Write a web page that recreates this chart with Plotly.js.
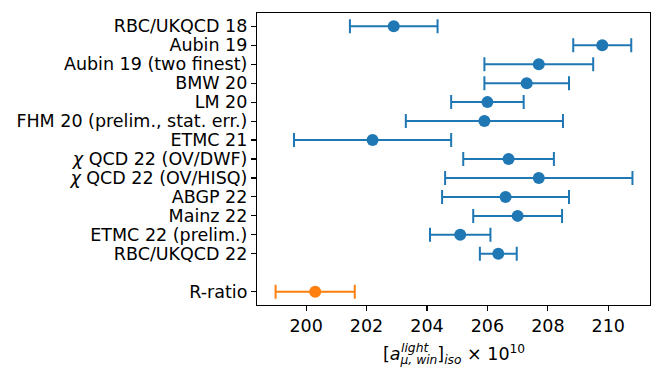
<!DOCTYPE html>
<html>
<head>
<meta charset="utf-8">
<script src="https://cdn.plot.ly/plotly-3.0.1.min.js"></script>
<style>
  html, body { margin: 0; padding: 0; background: #fff; }
  #plot { width: 664px; height: 383px; }
</style>
</head>
<body>
<div id="plot"></div>
<script>
// lattice results, top to bottom
var latticeLabels = [
    "RBC/UKQCD 18",
    "Aubin 19",
    "Aubin 19 (two finest)",
    "BMW 20",
    "LM 20",
    "FHM 20 (prelim., stat. err.)",
    "ETMC 21",
    "<i>χ</i> QCD 22 (OV/DWF)",
    "<i>χ</i> QCD 22 (OV/HISQ)",
    "ABGP 22",
    "Mainz 22",
    "ETMC 22 (prelim.)",
    "RBC/UKQCD 22"
];
var latticeValues = [202.9, 209.8, 207.7, 207.3, 206.0, 205.9, 202.2, 206.7, 207.7, 206.6, 207.0, 205.1, 206.36];
var latticeErrors = [1.45, 0.96, 1.8, 1.4, 1.2, 2.6, 2.6, 1.5, 3.1, 2.1, 1.47, 1.0, 0.61];

// data-driven estimate
var ratioLabel = "R-ratio";
var ratioValue = [200.3];
var ratioError = [1.31];

var xTicks = [200, 202, 204, 206, 208, 210];

var blue = '#1f77b4';
var orange = '#ff7f0e';

// row positions: R-ratio at 0, one empty row, then lattice entries going up
var n = latticeLabels.length;
var latticeY = latticeLabels.map(function(d, i) { return 2 + (n - 1 - i); });
var ratioY = [0];

var traces = [
    {
        type: 'scatter',
        mode: 'markers',
        x: latticeValues,
        y: latticeY,
        marker: { color: blue, size: 12 },
        error_x: { type: 'data', array: latticeErrors, visible: true, color: blue, thickness: 2, width: 7 },
        showlegend: false,
        hoverinfo: 'x'
    },
    {
        type: 'scatter',
        mode: 'markers',
        x: ratioValue,
        y: ratioY,
        marker: { color: orange, size: 12 },
        error_x: { type: 'data', array: ratioError, visible: true, color: orange, thickness: 2, width: 7 },
        showlegend: false,
        hoverinfo: 'x'
    }
];

var axisStyle = {
    ticks: 'outside',
    ticklen: 5,
    tickwidth: 1.1,
    tickcolor: '#000',
    showgrid: false,
    zeroline: false,
    showline: true,
    mirror: true,
    linecolor: '#000',
    linewidth: 1.1
};

var layout = {
    width: 664,
    height: 383,
    margin: { l: 257, r: 14, t: 13, b: 78, pad: 0 },
    paper_bgcolor: '#fff',
    plot_bgcolor: '#fff',
    font: { family: 'DejaVu Sans, sans-serif', size: 17.5, color: '#000' },
    xaxis: Object.assign({
        range: [198.375, 211.38],
        tickvals: xTicks,
        ticktext: xTicks.map(String)
    }, axisStyle),
    yaxis: Object.assign({
        range: [-0.7, 14.7],
        tickvals: latticeY.concat(ratioY),
        ticktext: latticeLabels.concat([ratioLabel])
    }, axisStyle),
    annotations: [
        {
            // x axis label, drawn as annotations so the super/subscript can stack
            text: '[<i>a</i><sub><i>μ, win</i></sub>]<sub><i>iso</i></sub> × 10<sup>10</sup>',
            xref: 'paper', yref: 'paper',
            x: 0.501, y: -0.171,
            xanchor: 'center', yanchor: 'middle',
            showarrow: false,
            font: { size: 17.5 }
        },
        {
            text: '<i>light</i>',
            xref: 'paper', yref: 'paper',
            x: 0.361, y: -0.146,
            xanchor: 'left', yanchor: 'middle',
            showarrow: false,
            font: { size: 12.3 }
        }
    ]
};

Plotly.newPlot('plot', traces, layout, { displayModeBar: false, staticPlot: true });
</script>
</body>
</html>
